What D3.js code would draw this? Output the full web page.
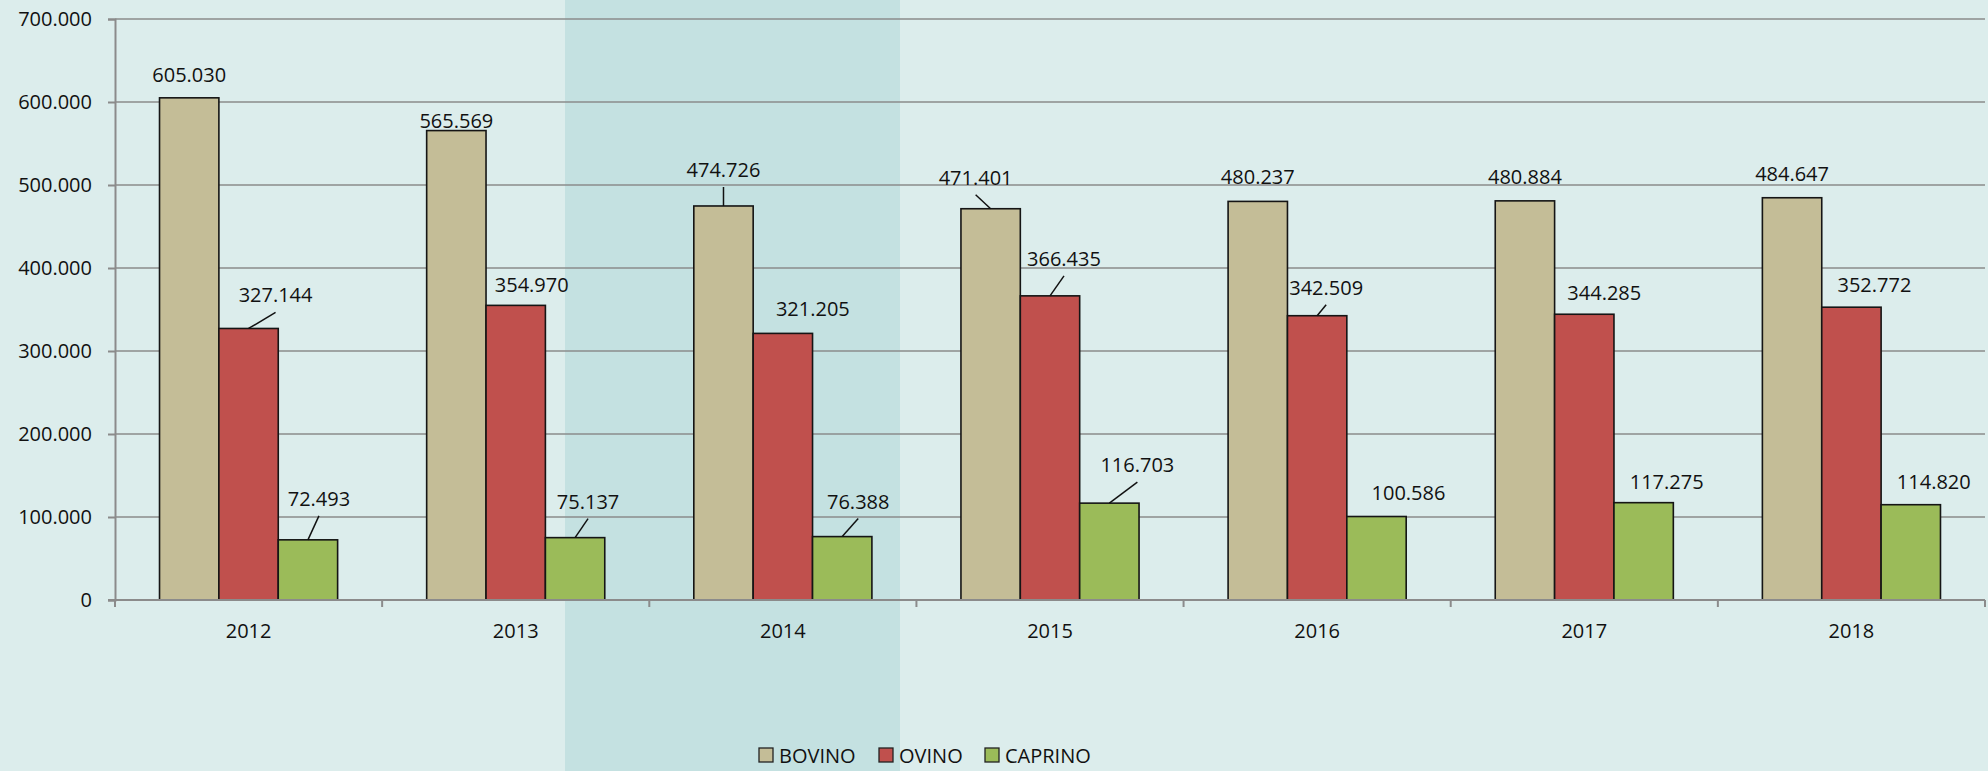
<!DOCTYPE html>
<html>
<head>
<meta charset="utf-8">
<script src="https://cdn.jsdelivr.net/npm/d3@7"></script>
<style>
  body { margin: 0; background: #dcedec; }
  svg text { font-family: "Open Sans", "Lato", sans-serif; fill: #111; }
</style>
</head>
<body>
<svg id="chart"></svg>
<script>
// data
var years = ["2012", "2013", "2014", "2015", "2016", "2017", "2018"];
var seriesNames = ["BOVINO", "OVINO", "CAPRINO"];
var bovino = [605030, 565569, 474726, 471401, 480237, 480884, 484647];
var ovino = [327144, 354970, 321205, 366435, 342509, 344285, 352772];
var caprino = [72493, 75137, 76388, 116703, 100586, 117275, 114820];
var yTicks = [0, 100000, 200000, 300000, 400000, 500000, 600000, 700000];

// label placement, as moved by hand in the original (dx, dy from bar top, leader line)
var labelShift = {
  BOVINO: [[0, -16, 0], [0, -3, 0], [0, -29, 1], [-15, -24, 1], [0, -17, 0], [0, -17, 0], [0, -17, 0]],
  OVINO: [[27, -26, 1], [16, -13, 0], [30, -17, 0], [14, -30, 1], [9, -21, 1], [20, -14, 0], [23, -15, 0]],
  CAPRINO: [[11, -34, 1], [13, -29, 1], [16, -28, 1], [28, -31, 1], [32, -17, 0], [23, -14, 0], [23, -16, 0]]
};

var colors = { BOVINO: "#c4bd97", OVINO: "#c0504d", CAPRINO: "#9bbb59" };

var svgWidth = 1988;
var svgHeight = 771;
var plot = { left: 115, right: 1985, top: 19, bottom: 600 };

var it = d3.formatLocale({ decimal: ",", thousands: ".", grouping: [3], currency: ["€", ""] });
var fmt = it.format(",.0f");

var svg = d3.select("#chart")
  .attr("width", svgWidth)
  .attr("height", svgHeight);

svg.append("rect")
  .attr("width", svgWidth)
  .attr("height", svgHeight)
  .attr("fill", "#dcedec");

// highlighted column of the slide behind the chart
svg.append("rect")
  .attr("x", 565)
  .attr("y", 0)
  .attr("width", 335)
  .attr("height", svgHeight)
  .attr("fill", "#c4e1e1");

var x0 = d3.scaleBand()
  .domain(years)
  .range([plot.left, plot.right])
  .paddingInner(1 / 3)
  .paddingOuter(1 / 6);

var x1 = d3.scaleBand()
  .domain(seriesNames)
  .range([0, x0.bandwidth()]);

var y = d3.scaleLinear()
  .domain([0, 700000])
  .range([plot.bottom, plot.top]);

var values = { BOVINO: bovino, OVINO: ovino, CAPRINO: caprino };

// gridlines
svg.append("g")
  .selectAll("line")
  .data(yTicks.slice(1))
  .enter()
  .append("line")
  .attr("x1", plot.left)
  .attr("x2", plot.right)
  .attr("y1", function(d) { return y(d); })
  .attr("y2", function(d) { return y(d); })
  .attr("stroke", "#8b8b8b")
  .attr("stroke-width", 1.6);

// y axis
var leftAxis = d3.axisLeft(y)
  .tickValues(yTicks)
  .tickFormat(fmt)
  .tickSize(7)
  .tickPadding(16);

var yAxis = svg.append("g")
  .attr("transform", "translate(" + plot.left + ",0)")
  .call(leftAxis);
yAxis.select(".domain").attr("stroke", "#8b8b8b").attr("stroke-width", 2);
yAxis.selectAll(".tick line").attr("stroke", "#8b8b8b").attr("stroke-width", 2);
yAxis.selectAll("text").style("font-size", "20px").attr("fill", "#111");

// bars
var rows = [];
years.forEach(function(yr, i) {
  seriesNames.forEach(function(s) {
    rows.push({ year: yr, series: s, value: values[s][i], shift: labelShift[s][i] });
  });
});

svg.append("g")
  .selectAll("rect")
  .data(rows)
  .enter()
  .append("rect")
  .attr("x", function(d) { return x0(d.year) + x1(d.series); })
  .attr("y", function(d) { return y(d.value); })
  .attr("width", x1.bandwidth())
  .attr("height", function(d) { return y(0) - y(d.value); })
  .attr("fill", function(d) { return colors[d.series]; })
  .attr("stroke", "#151515")
  .attr("stroke-width", 1.6);

// x axis line and category ticks
var step = x0.step();
var bounds = d3.range(years.length + 1).map(function(i) { return plot.left + i * step; });

svg.append("line")
  .attr("x1", plot.left - 7)
  .attr("x2", plot.right)
  .attr("y1", y(0))
  .attr("y2", y(0))
  .attr("stroke", "#8b8b8b")
  .attr("stroke-width", 2);

svg.append("g")
  .selectAll("line")
  .data(bounds)
  .enter()
  .append("line")
  .attr("x1", function(d) { return d; })
  .attr("x2", function(d) { return d; })
  .attr("y1", y(0))
  .attr("y2", y(0) + 7)
  .attr("stroke", "#8b8b8b")
  .attr("stroke-width", 2);

var bottomAxis = d3.axisBottom(x0).tickSize(0).tickPadding(24);
var xAxis = svg.append("g")
  .attr("transform", "translate(0," + y(0) + ")")
  .call(bottomAxis);
xAxis.select(".domain").remove();
xAxis.selectAll("text").style("font-size", "20px").attr("fill", "#111");

// data labels + leader lines
function barCenter(d) { return x0(d.year) + x1(d.series) + x1.bandwidth() / 2; }

svg.append("g")
  .selectAll("line")
  .data(rows.filter(function(d) { return d.shift[2]; }))
  .enter()
  .append("line")
  .attr("x1", function(d) { return barCenter(d); })
  .attr("y1", function(d) { return y(d.value); })
  .attr("x2", function(d) { return barCenter(d) + d.shift[0]; })
  .attr("y2", function(d) { return y(d.value) + d.shift[1] + 10; })
  .attr("stroke", "#111")
  .attr("stroke-width", 1.5);

svg.append("g")
  .selectAll("text")
  .data(rows)
  .enter()
  .append("text")
  .attr("x", function(d) { return barCenter(d) + d.shift[0]; })
  .attr("y", function(d) { return y(d.value) + d.shift[1]; })
  .attr("text-anchor", "middle")
  .style("font-size", "20px")
  .text(function(d) { return fmt(d.value); });

// legend
var legendX = [759, 879, 985];
var legend = svg.append("g")
  .selectAll("g")
  .data(seriesNames)
  .enter()
  .append("g")
  .attr("transform", function(d, i) { return "translate(" + legendX[i] + ",748)"; });

legend.append("rect")
  .attr("width", 14)
  .attr("height", 14)
  .attr("fill", function(d) { return colors[d]; })
  .attr("stroke", "#222")
  .attr("stroke-width", 1.3);

legend.append("text")
  .attr("x", 20)
  .attr("y", 15)
  .style("font-size", "20px")
  .text(function(d) { return d; });
</script>
</body>
</html>
